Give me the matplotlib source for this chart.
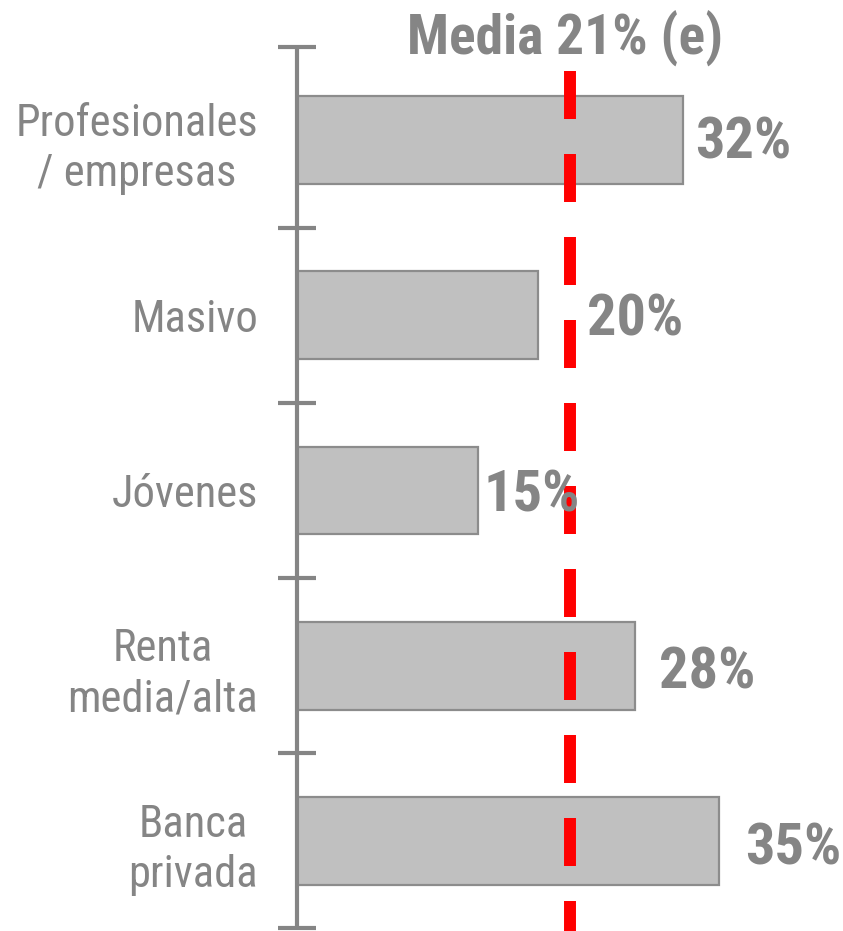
import matplotlib
matplotlib.use("Agg")
import matplotlib.pyplot as plt
import matplotlib.transforms as mtransforms

# ---- data ----
categories = ["Profesionales\n/ empresas", "Masivo", "Jóvenes", "Renta\nmedia/alta", "Banca\nprivada"]
values = [32, 20, 15, 28, 35]
value_labels = ["32%", "20%", "15%", "28%", "35%"]
mean_label = "Media 21% (e)"
mean_line_value = 22.6   # where the dashed reference line sits in the picture

# ---- style ----
FONT = ["Roboto Condensed", "PT Sans Narrow", "DejaVu Sans"]
GRAY = "#858585"
BAR_FILL = "#c0c0c0"
BAR_EDGE = "#8c8c8c"
label_offsets_px = [(12, -3), (49, -5), (6, -5), (24, -7), (26, -8)]

plt.rcParams["font.family"] = FONT

W, H = 843, 931
fig = plt.figure(figsize=(W / 100, H / 100), dpi=100)
ax_left = 297 / W
ax_bottom, ax_top = 1 - 928 / H, 1 - 47 / H
ax = fig.add_axes([ax_left, ax_bottom, 1.0 - ax_left, ax_top - ax_bottom])

n = len(categories)
ypos = list(range(n))
ax.barh(ypos, values, height=0.5, color=BAR_FILL, edgecolor=BAR_EDGE, linewidth=1.6, zorder=2)

y_lo, y_hi = n - 0.504, -0.531
ax.set_ylim(y_lo, y_hi)
px_per_unit = 12.06
ax.set_xlim(0, (W - 297) / px_per_unit)

for s in ["top", "right", "bottom"]:
    ax.spines[s].set_visible(False)
ax.spines["left"].set_color(GRAY)
ax.spines["left"].set_linewidth(3.0)
ax.spines["left"].set_capstyle("butt")
ax.set_xticks([])

# boundaries as major ticks, category labels on minor ticks
bounds = [y_hi] + [i + 0.5 for i in range(n - 1)] + [y_lo]
ax.set_yticks(bounds)
ax.set_yticklabels([])
ax.tick_params(axis="y", which="major", direction="inout", length=27, width=3.0, color=GRAY)
ax.set_yticks(ypos, minor=True)
ax.set_yticklabels(categories, minor=True, fontsize=32, color=GRAY, multialignment="center",
                   linespacing=1.25)
ax.tick_params(axis="y", which="minor", length=0, pad=28)
for t in ax.yaxis.get_majorticklines():
    t.set_solid_capstyle("round")

# value labels
for i, (v, lab) in enumerate(zip(values, value_labels)):
    dx, dy = label_offsets_px[i]
    ax.annotate(lab, xy=(v, i), xytext=(dx * 0.72, dy * 0.72), textcoords="offset points",
                ha="left", va="center", fontsize=42, fontweight="bold", color=GRAY, zorder=4)

# mean dashed line, drawn top to bottom so the dash pattern starts at the top
lw = 8.6
trans = mtransforms.blended_transform_factory(ax.transData, ax.transAxes)
y_top = (928 - 71) / 881
y_bot = (928 - 940) / 881
ax.plot([mean_line_value, mean_line_value], [y_top, y_bot], transform=trans,
        color="#ff0000", linewidth=lw, clip_on=False, zorder=3,
        linestyle=(0, (48 * 0.72 / lw, 35 * 0.72 / lw)), dash_capstyle="butt")

fig.text(565 / W, 1 - 55 / H, mean_label, ha="center", va="baseline",
         fontsize=40, fontweight="bold", color=GRAY)

fig.savefig("out.png", dpi=100)
